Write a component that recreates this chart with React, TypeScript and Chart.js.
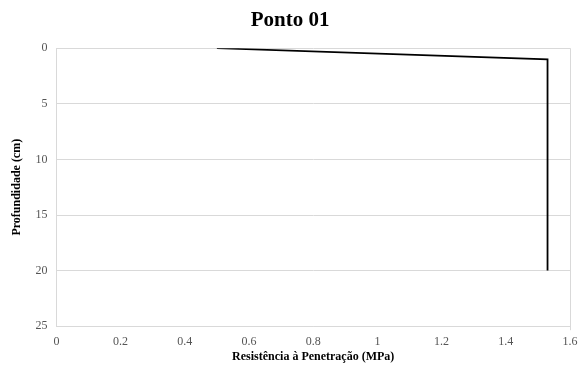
import React, { useEffect, useRef } from "react";
import { Chart, registerables } from "chart.js";

Chart.register(...registerables);

const resistance = [0.5, 1.53, 1.53];
const depth = [0, 1, 20];
const titleText = "Ponto 01";
const xTitle = "Resistência à Penetração (MPa)";
const yTitle = "Profundidade (cm)";

export default function App() {
  const ref = useRef<HTMLCanvasElement>(null);
  useEffect(() => {
    const c = new Chart(ref.current!, {
      type: "scatter",
      data: {
        datasets: [
          {
            data: resistance.map((x, i) => ({ x, y: depth[i] })),
            showLine: true,
            borderColor: "#000",
            borderWidth: 1.8,
            pointRadius: 0,
            tension: 0,
          },
        ],
      },
      options: {
        animation: false,
        responsive: true,
        maintainAspectRatio: false,
        layout: { padding: { left: 10, right: 15, top: 8, bottom: 6 } },
        plugins: {
          legend: { display: false },
          tooltip: { enabled: false },
          title: {
            display: true,
            text: titleText,
            color: "#000",
            font: { family: "Liberation Serif", size: 21, weight: "bold" },
            padding: { top: 0, bottom: 15 },
          },
        },
        scales: {
          x: {
            type: "linear",
            min: 0,
            max: 1.6,
            ticks: {
              stepSize: 0.2,
              color: "#555",
              font: { family: "Liberation Serif", size: 12 },
              padding: 4,
              callback: (v: any) => String(Math.round(Number(v) * 10) / 10),
            },
            grid: {
              color: (ctx: any) => (ctx.index === 8 ? "#d9d9d9" : "rgba(0,0,0,0)"),
              tickLength: 4,
            },
            border: { color: "#d9d9d9" },
            title: {
              display: true,
              text: xTitle,
              color: "#000",
              font: { family: "Liberation Serif", size: 12, weight: "bold" },
              padding: { top: -3, bottom: 0 },
            },
          },
          y: {
            type: "linear",
            min: 0,
            max: 25,
            reverse: true,
            ticks: {
              stepSize: 5,
              color: "#555",
              font: { family: "Liberation Serif", size: 12 },
              padding: 9,
            },
            grid: { color: "#d9d9d9", drawTicks: false },
            border: { color: "#d9d9d9" },
            title: {
              display: true,
              text: yTitle,
              color: "#000",
              font: { family: "Liberation Serif", size: 12, weight: "bold" },
              padding: { top: 0, bottom: 2 },
            },
          },
        },
      },
    });
    return () => c.destroy();
  }, []);
  return (
    <div style={{ position: "fixed", left: 0, top: 0, width: 585, height: 370, background: "#fff" }}>
      <canvas ref={ref} />
    </div>
  );
}
